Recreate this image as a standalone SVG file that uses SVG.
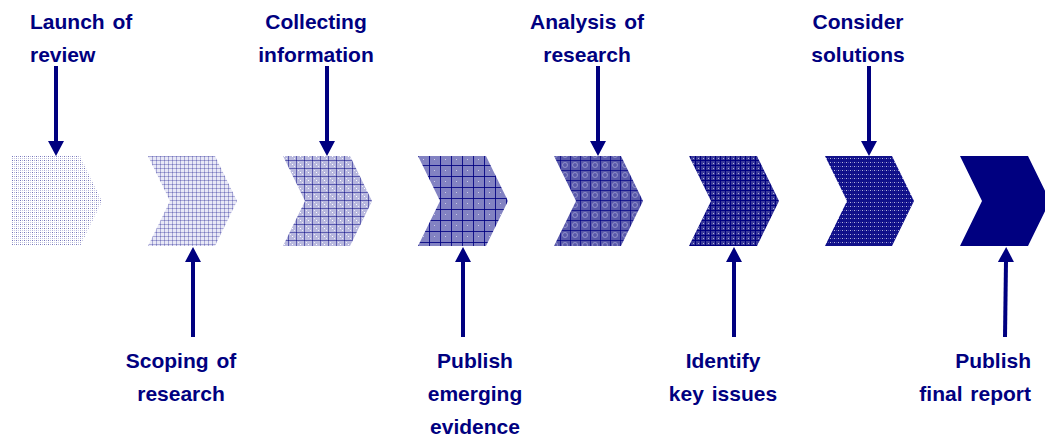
<svg xmlns="http://www.w3.org/2000/svg" width="1045" height="437" viewBox="0 0 1045 437">
  <style>
    .lbl { font-family: "Liberation Sans", Arial, sans-serif; font-weight: bold; font-size: 21px; fill: #000080; word-spacing: 2px; }
    .mid { text-anchor: middle; }
    .end { text-anchor: end; }
    .conn { stroke: #000080; stroke-width: 4; fill: none; marker-end: url(#head); }
  </style>
  <defs>
    <marker id="head" viewBox="0 0 15 16" refX="1" refY="8" markerWidth="15" markerHeight="16" markerUnits="userSpaceOnUse" orient="auto">
      <path d="M0,0 L15,8 L0,16 Z" fill="#000080"/>
    </marker>
    <!-- fills get progressively denser from stage to stage -->
    <pattern id="f1" width="4" height="4" patternUnits="userSpaceOnUse">
      <rect width="4" height="4" fill="#fff"/>
      <rect x="0" y="0" width="1" height="1" fill="#000080" opacity="0.55"/>
      <rect x="2" y="0" width="1" height="1" fill="#000080" opacity="0.3"/>
      <rect x="0" y="2" width="1" height="1" fill="#000080" opacity="0.3"/>
      <rect x="2" y="2" width="1" height="1" fill="#000080" opacity="0.2"/>
    </pattern>
    <pattern id="f2" width="4" height="4" patternUnits="userSpaceOnUse">
      <rect width="4" height="4" fill="#e8e8f6"/>
      <rect x="0" y="0" width="4" height="1" fill="#000080" opacity="0.28"/>
      <rect x="0" y="0" width="1" height="4" fill="#000080" opacity="0.28"/>
    </pattern>
    <pattern id="f3" width="8" height="8" patternUnits="userSpaceOnUse">
      <rect width="8" height="8" fill="#b8b8de"/>
      <rect x="0" y="0" width="8" height="1" fill="#000080" opacity="0.5"/>
      <rect x="0" y="0" width="1" height="8" fill="#000080" opacity="0.5"/>
      <rect x="4" y="4" width="1" height="1" fill="#fff"/>
      <rect x="2" y="2" width="1" height="1" fill="#fff" opacity="0.7"/>
      <rect x="6" y="6" width="1" height="1" fill="#fff" opacity="0.7"/>
    </pattern>
    <pattern id="f4" width="11" height="11" patternUnits="userSpaceOnUse">
      <rect width="11" height="11" fill="#8282c2"/>
      <rect x="0" y="0" width="11" height="1" fill="#000080" opacity="0.85"/>
      <rect x="0" y="0" width="1" height="11" fill="#000080" opacity="0.85"/>
      <rect x="5" y="5" width="1" height="1" fill="#fff" opacity="0.6"/>
    </pattern>
    <pattern id="f5" width="10" height="10" patternUnits="userSpaceOnUse">
      <rect width="10" height="10" fill="#5858aa"/>
      <circle cx="5" cy="5" r="2.5" fill="none" stroke="#a8a8d6" stroke-width="0.7"/>
      <rect x="0" y="0" width="10" height="1" fill="#000080" opacity="0.7"/>
      <rect x="0" y="0" width="1" height="10" fill="#000080" opacity="0.7"/>
    </pattern>
    <pattern id="f6" width="5" height="5" patternUnits="userSpaceOnUse">
      <rect width="5" height="5" fill="#3a3a9a"/>
      <rect x="0" y="0" width="5" height="1" fill="#000080"/>
      <rect x="0" y="0" width="1" height="5" fill="#000080"/>
      <rect x="3" y="3" width="1" height="1" fill="#d0d0ec" opacity="0.8"/>
    </pattern>
    <pattern id="f7" width="4" height="4" patternUnits="userSpaceOnUse">
      <rect width="4" height="4" fill="#10108a"/>
      <rect x="2" y="2" width="1" height="1" fill="#b4b4dc"/>
      <rect x="0" y="2" width="1" height="1" fill="#6a6ab8" opacity="0.6"/>
    </pattern>
  </defs>

  <!-- process stages -->
  <g id="stage1"><path d="M11,156 L80,156 L102,201 L80,246 L11,246 Z" fill="url(#f1)"/></g>
  <g id="stage2"><path d="M148,156 L215,156 L237,201 L215,246 L148,246 L170,201 Z" fill="url(#f2)"/></g>
  <g id="stage3"><path d="M283,156 L350,156 L372,201 L350,246 L283,246 L305,201 Z" fill="url(#f3)"/></g>
  <g id="stage4"><path d="M418,156 L486,156 L508,201 L486,246 L418,246 L440,201 Z" fill="url(#f4)"/></g>
  <g id="stage5"><path d="M554,156 L621,156 L643,201 L621,246 L554,246 L576,201 Z" fill="url(#f5)"/></g>
  <g id="stage6"><path d="M689,156 L757,156 L779,201 L757,246 L689,246 L711,201 Z" fill="url(#f6)"/></g>
  <g id="stage7"><path d="M825,156 L892,156 L914,201 L892,246 L825,246 L847,201 Z" fill="url(#f7)"/></g>
  <g id="stage8"><path d="M960,156 L1028,156 L1050,201 L1028,246 L960,246 L982,201 Z" fill="#000080"/></g>

  <!-- connectors -->
  <g id="connectors">
    <line class="conn" x1="56" y1="66" x2="56" y2="142"/>
    <line class="conn" x1="327" y1="66" x2="327" y2="142"/>
    <line class="conn" x1="598" y1="66" x2="598" y2="142"/>
    <line class="conn" x1="869" y1="66" x2="869" y2="142"/>
    <line class="conn" x1="193" y1="337" x2="193" y2="261"/>
    <line class="conn" x1="463" y1="337" x2="463" y2="261"/>
    <line class="conn" x1="734" y1="337" x2="734" y2="261"/>
    <line class="conn" x1="1005" y1="337" x2="1006" y2="261"/>
  </g>

  <!-- milestone labels -->
  <g id="launch"><text class="lbl" x="30" y="29">Launch of</text><text class="lbl" x="30" y="62">review</text></g>
  <g id="collecting"><text class="lbl mid" x="316" y="29">Collecting</text><text class="lbl mid" x="316" y="62">information</text></g>
  <g id="analysis"><text class="lbl mid" x="587" y="29">Analysis of</text><text class="lbl mid" x="587" y="62">research</text></g>
  <g id="consider"><text class="lbl mid" x="858" y="29">Consider</text><text class="lbl mid" x="858" y="62">solutions</text></g>
  <g id="scoping"><text class="lbl mid" x="181" y="368">Scoping of</text><text class="lbl mid" x="181" y="401">research</text></g>
  <g id="emerging"><text class="lbl mid" x="475" y="368">Publish</text><text class="lbl mid" x="475" y="401">emerging</text><text class="lbl mid" x="475" y="434">evidence</text></g>
  <g id="issues"><text class="lbl mid" x="723" y="368">Identify</text><text class="lbl mid" x="723" y="401">key issues</text></g>
  <g id="final"><text class="lbl end" x="1031" y="368">Publish</text><text class="lbl end" x="1031" y="401">final report</text></g>
</svg>
